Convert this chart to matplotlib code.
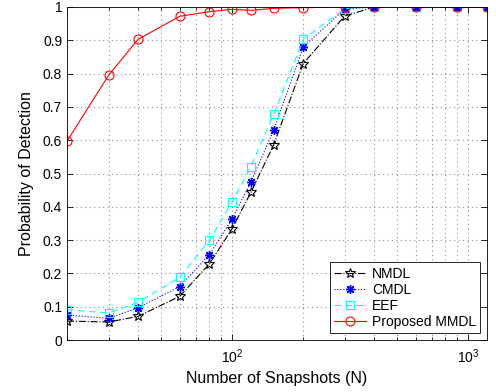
import matplotlib
matplotlib.use("Agg")
import matplotlib.pyplot as plt
from matplotlib.ticker import LogLocator, NullFormatter

plt.rcParams['font.family'] = ['Liberation Sans', 'DejaVu Sans']

snapshots = [20, 30, 40, 60, 80, 100, 120, 150, 200, 300, 400, 600, 900, 1200]
nmdl = [0.057, 0.054, 0.071, 0.131, 0.228, 0.334, 0.443, 0.586, 0.830, 0.973, 1.0, 1.0, 1.0, 1.0]
cmdl = [0.075, 0.065, 0.097, 0.160, 0.256, 0.363, 0.474, 0.630, 0.880, 0.994, 1.0, 1.0, 1.0, 1.0]
eef = [0.091, 0.081, 0.113, 0.188, 0.299, 0.414, 0.521, 0.678, 0.903, 0.995, 1.0, 1.0, 1.0, 1.0]
mmdl = [0.597, 0.795, 0.903, 0.972, 0.986, 0.993, 0.990, 0.996, 0.998, 1.0, 1.0, 1.0, 1.0, 1.0]

fig = plt.figure(figsize=(4.96, 3.92), dpi=100)
ax = fig.add_axes([67/496, 52/392, 420/496, 333/392])

ax.plot(snapshots, nmdl, color='black', linestyle='-.', linewidth=0.8,
        marker='*', markersize=7.5, markerfacecolor='none', markeredgewidth=0.8, label='NMDL')
ax.plot(snapshots, cmdl, color='blue', linestyle=':', linewidth=0.8,
        marker=(8, 2, 0), markersize=6.5, markeredgewidth=1.0, label='CMDL')
ax.plot(snapshots, eef, color='cyan', linestyle='--', linewidth=0.8, dashes=(6, 4),
        marker='s', markersize=5.5, markerfacecolor='none', markeredgewidth=0.8, label='EEF')
ax.plot(snapshots, mmdl, color='red', linestyle='-', linewidth=0.8,
        marker='o', markersize=6.5, markerfacecolor='none', markeredgewidth=0.8, label='Proposed MMDL')

ax.set_xscale('log')
ax.set_xlim(20, 1200)
ax.set_ylim(0, 1)
ax.set_yticks([0, 0.1, 0.2, 0.3, 0.4, 0.5, 0.6, 0.7, 0.8, 0.9, 1.0])
ax.set_yticklabels(['0', '0.1', '0.2', '0.3', '0.4', '0.5', '0.6', '0.7', '0.8', '0.9', '1'])
ax.xaxis.set_major_locator(LogLocator(base=10, numticks=10))
ax.xaxis.set_minor_locator(LogLocator(base=10, subs=range(2, 10), numticks=20))
ax.xaxis.set_minor_formatter(NullFormatter())

ax.grid(True, which='major', axis='both', linestyle=(0, (1, 3)), color='#909090', linewidth=0.8)
ax.grid(True, which='minor', axis='x', linestyle=(0, (1, 3)), color='#909090', linewidth=0.8)

ax.tick_params(which='both', direction='in', top=True, right=True, labelsize=10)
ax.tick_params(which='major', length=4, width=0.6)
ax.tick_params(which='minor', length=2, width=0.6)
ax.tick_params(axis='x', pad=5)
for s in ax.spines.values():
    s.set_linewidth(0.6)

ax.set_xlabel('Number of Snapshots (N)', fontsize=11.5, labelpad=4)
ax.set_ylabel('Probability of Detection', fontsize=11.5, labelpad=6)

leg = ax.legend(loc='lower right', fontsize=10, fancybox=False, framealpha=1,
                edgecolor='black', borderaxespad=0.5, handlelength=2.3,
                labelspacing=0.15, borderpad=0.3, handletextpad=0.4)
leg.get_frame().set_linewidth(0.6)

fig.savefig('out.png', dpi=100)
